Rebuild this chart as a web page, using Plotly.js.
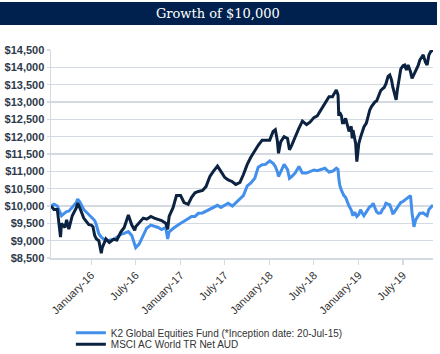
<!DOCTYPE html>
<html>
<head>
<meta charset="utf-8">
<script src="https://cdn.plot.ly/plotly-3.0.1.min.js"></script>
<style>html,body{margin:0;padding:0;background:#fff;}#chart{width:440px;height:354px;}</style>
</head>
<body>
<div id="chart"></div>
<script>
var dates = [
"2015-07-20","2015-08-01","2015-08-15","2015-08-28","2015-09-01","2015-09-15","2015-09-22","2015-10-01","2015-10-15","2015-11-01","2015-11-06","2015-11-15","2015-12-01","2015-12-15","2015-12-22",
"2016-01-01","2016-01-08","2016-01-15","2016-01-22","2016-02-01","2016-02-11","2016-02-15","2016-03-01","2016-03-15","2016-04-01","2016-04-15","2016-05-01","2016-05-15","2016-06-01","2016-06-15","2016-06-27","2016-07-01","2016-07-15","2016-08-01","2016-08-15","2016-09-01","2016-09-15","2016-10-01","2016-10-15","2016-11-01","2016-11-09","2016-11-15","2016-12-01","2016-12-15",
"2017-01-01","2017-01-15","2017-02-01","2017-02-15","2017-03-01","2017-03-15","2017-04-01","2017-04-15","2017-05-01","2017-05-15","2017-06-01","2017-06-15","2017-07-01","2017-07-15","2017-08-01","2017-08-15","2017-09-01","2017-09-15","2017-10-01","2017-10-15","2017-11-01","2017-11-15","2017-12-01","2017-12-15",
"2018-01-01","2018-01-15","2018-01-24","2018-02-01","2018-02-06","2018-02-15","2018-03-01","2018-03-15","2018-03-23","2018-04-01","2018-04-15","2018-05-01","2018-05-15","2018-06-01","2018-06-15","2018-07-01","2018-07-15","2018-08-01","2018-08-15","2018-09-01","2018-09-15","2018-10-01","2018-10-08","2018-10-11","2018-10-15","2018-10-22","2018-10-26","2018-11-01","2018-11-08","2018-11-15","2018-11-22","2018-12-01","2018-12-05","2018-12-08","2018-12-15","2018-12-19","2018-12-24",
"2019-01-01","2019-01-08","2019-01-15","2019-01-22","2019-02-01","2019-02-08","2019-02-15","2019-02-22","2019-03-01","2019-03-08","2019-03-15","2019-03-22","2019-04-01","2019-04-08","2019-04-15","2019-04-22","2019-05-01","2019-05-08","2019-05-15","2019-05-20","2019-05-24","2019-06-03","2019-06-08","2019-06-15","2019-06-22","2019-07-01","2019-07-08","2019-07-15","2019-07-22","2019-08-01","2019-08-07","2019-08-15","2019-08-22","2019-09-01","2019-09-08","2019-09-15","2019-09-22","2019-10-01","2019-10-08","2019-10-15","2019-10-22","2019-11-01"];

var k2 = [
10000,10050,10000,9750,9720,9800,9840,9850,9950,10100,10200,10120,9900,9800,9750,
9700,9650,9580,9450,9200,9100,9080,9000,9010,9040,9100,9180,9210,9260,9150,8850,8800,8900,9170,9360,9450,9420,9380,9320,9380,9050,9250,9350,9430,
9500,9560,9650,9700,9700,9790,9800,9850,9900,9960,10020,9960,10020,10080,10000,10100,10200,10300,10580,10660,10800,11120,11190,11200,
11300,11230,11140,11000,10850,11000,11200,11050,10800,10850,10950,11140,10950,10950,11000,11040,11020,11060,11090,10980,11000,11090,11050,10800,10600,10450,10370,10300,10250,10100,10000,9880,9800,9720,9820,9780,9700,
9760,9890,9800,9720,9830,9890,9980,10000,10080,9950,9830,9790,9800,9900,9950,10080,10050,10030,9900,9790,9800,9900,9950,10030,10100,10130,10170,10200,10250,10300,9800,9400,9600,9700,9790,9790,9800,9750,9720,9900,9950,10030];

var msci = [
10000,9900,9900,9100,9500,9380,9600,9330,9720,9950,10080,9950,9650,9500,9460,
9450,9400,9150,9050,9000,8640,8800,9050,8950,9040,9020,9250,9380,9740,9450,9300,9400,9500,9650,9620,9700,9650,9620,9580,9500,9330,9700,9950,10300,
10300,10100,10050,10250,10380,10420,10450,10560,10850,11000,11150,11000,10820,10750,10700,10620,10680,10900,11200,11400,11600,11750,11900,11900,
11900,12150,12200,11900,11520,11850,12000,11950,11620,11750,12000,12250,12450,12350,12420,12550,12600,12800,12950,13150,13150,13350,13200,12600,12700,12600,12400,12400,12530,12290,12150,12300,11950,12190,12000,11810,11280,
11800,11980,12150,12280,12390,12580,12770,12870,12950,13000,13030,13150,13330,13380,13420,13520,13740,13780,13640,13440,13350,13060,13350,13700,13950,14050,14070,13920,14070,13870,13680,13800,13900,14050,14210,14300,14360,14150,14070,14350,14450,14500];

var seriesNames = ["K2 Global Equities Fund (*Inception date: 20-Jul-15)", "MSCI AC World TR Net AUD"];
var tickDates = ["2016-01-01","2016-07-01","2017-01-01","2017-07-01","2018-01-01","2018-07-01","2019-01-01","2019-07-01"];
var tickLabels = ["January-16","July-16","January-17","July-17","January-18","July-18","January-19","July-19"];
var titleText = "Growth of $10,000";

var traces = [
  {x: dates, y: k2, type: "scatter", mode: "lines", name: seriesNames[0],
   line: {color: "#4290ec", width: 3}, legend: "legend", hoverinfo: "skip"},
  {x: dates, y: msci, type: "scatter", mode: "lines", name: seriesNames[1],
   line: {color: "#0c2241", width: 3}, legend: "legend2", hoverinfo: "skip"}
];

var gridC = "#d3dae2";
var layout = {
  width: 440, height: 354,
  margin: {l: 51, r: 7, t: 50, b: 96, pad: 0, autoexpand: false},
  paper_bgcolor: "#ffffff", plot_bgcolor: "#ffffff",
  showlegend: true,
  title: {text: titleText, font: {family: "DejaVu Serif", size: 13, color: "#ffffff"},
          x: 0.495, xref: "container", xanchor: "center", y: 0.961, yref: "container", yanchor: "middle"},
  xaxis: {type: "date", range: ["2015-07-20", "2019-11-01"], tickvals: tickDates, ticktext: tickLabels,
          tickangle: -45, tickfont: {family: "Liberation Sans, Arial", size: 11, color: "#333333"},
          showgrid: false, zeroline: false, showline: true, linecolor: gridC, linewidth: 1.5,
          ticks: "outside", ticklen: 5, tickcolor: gridC, tickwidth: 1.2, automargin: false},
  yaxis: {range: [8500, 14500], dtick: 500, tick0: 8500, tickprefix: "$", tickformat: ",d",
          tickfont: {family: "Liberation Sans, Arial", size: 11, color: "#2e3a4b", weight: "bold"},
          showgrid: true, gridcolor: gridC, gridwidth: 1.5, zeroline: false,
          showline: true, linecolor: gridC, linewidth: 1.5,
          ticks: "outside", ticklen: 3, tickcolor: gridC, tickwidth: 1.2, automargin: false},
  legend: {x: 0.052, xanchor: "left", y: -0.359, yanchor: "middle", bgcolor: "rgba(0,0,0,0)",
           font: {family: "Liberation Sans, Arial", size: 10, color: "#333333"}},
  legend2: {x: 0.052, xanchor: "left", y: -0.4145, yanchor: "middle", bgcolor: "rgba(0,0,0,0)",
           font: {family: "Liberation Sans, Arial", size: 10, color: "#333333"}},
  shapes: [{type: "rect", xref: "paper", yref: "paper", x0: -0.1335, x1: 1.0105, y0: 1.1201, y1: 1.2305,
            fillcolor: "#00214d", line: {width: 0}, layer: "below"}]
};

Plotly.newPlot("chart", traces, layout, {displayModeBar: false, staticPlot: true});
</script>
</body>
</html>
